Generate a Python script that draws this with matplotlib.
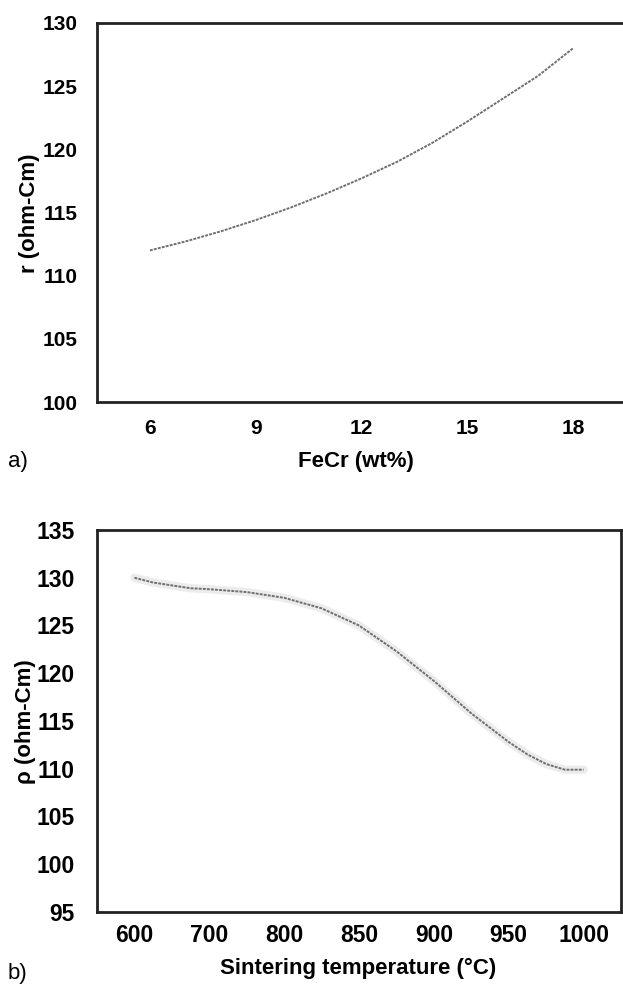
import matplotlib
matplotlib.use("Agg")
import matplotlib.pyplot as plt

plt.rcParams["font.family"] = ["Liberation Sans", "DejaVu Sans"]

# (a) resistivity vs FeCr content
fecr_wt = [6, 7, 8, 9, 10, 11, 12, 13, 14, 15, 16, 17, 18]
rho_fecr = [112.0, 112.7, 113.5, 114.4, 115.4, 116.5, 117.7,
            119.0, 120.5, 122.2, 124.0, 125.8, 128.0]
fecr_ticks = [6, 9, 12, 15, 18]

# (b) resistivity vs sintering temperature (category axis, Excel style)
temp_labels = ["600", "700", "800", "850", "900", "950", "1000"]
# curve read along the category axis (0 = 600, 6 = 1000)
temp_pos = [0, 0.25, 0.5, 0.75, 1.0, 1.5, 2.0, 2.5, 3.0, 3.5, 4.0,
            4.5, 5.0, 5.25, 5.5, 5.75, 6.0]
rho_temp = [130.0, 129.5, 129.2, 128.9, 128.8, 128.5, 127.9, 126.8,
            125.0, 122.3, 119.2, 115.8, 112.8, 111.5, 110.5, 109.9, 109.9]

W, H = 623, 986
fig = plt.figure(figsize=(W / 100, H / 100), dpi=100)

LINE = "#6f6f6f"
SPINE = "#222222"


def style(ax, size, right=True):
    for side, sp in ax.spines.items():
        sp.set_linewidth(2)
        sp.set_color(SPINE)
    if not right:
        ax.spines["right"].set_visible(False)
    ax.tick_params(length=0, labelsize=size)
    for lab in ax.get_xticklabels() + ax.get_yticklabels():
        lab.set_fontweight("bold")


# ---------------------------------------------------------------------------
# panel a
# ---------------------------------------------------------------------------
ax1 = fig.add_axes([97 / W, 1 - 402 / H, 529 / W, 379 / H])
ax1.plot(fecr_wt, rho_fecr, color=LINE, lw=1.4, ls=(0, (1.5, 0.6)))
ax1.set_xlim(4.5, 19.5)
ax1.set_ylim(100, 130)
ax1.set_xticks(fecr_ticks)
ax1.set_yticks(range(100, 131, 5))
ax1.tick_params(axis="y", pad=14)
ax1.tick_params(axis="x", pad=12)
style(ax1, 15)

fig.text(30 / W, 1 - 213 / H, "r (ohm-Cm)", rotation=90, ha="center",
         va="center", fontsize=16, fontweight="bold")
fig.text(356 / W, 1 - 462 / H, "FeCr (wt%)", ha="center", va="center",
         fontsize=16, fontweight="bold")
fig.text(8 / W, 1 - 462 / H, "a)", ha="left", va="center", fontsize=16)

# ---------------------------------------------------------------------------
# panel b
# ---------------------------------------------------------------------------
ax2 = fig.add_axes([97 / W, 1 - 912 / H, 524 / W, 382 / H])
ax2.plot(temp_pos, rho_temp, color="#ececec", lw=6, solid_capstyle="round")
ax2.plot(temp_pos, rho_temp, color=LINE, lw=1.4, ls=(0, (1.5, 0.6)))
ax2.set_xlim(-0.5, 6.5)
ax2.set_ylim(95, 135)
ax2.set_xticks(range(len(temp_labels)))
ax2.set_xticklabels(temp_labels)
ax2.set_yticks(range(95, 136, 5))
ax2.tick_params(axis="y", pad=16)
ax2.tick_params(axis="x", pad=9)
style(ax2, 16.5)

fig.text(25 / W, 1 - 722 / H, "\u03c1 (ohm-Cm)", rotation=90, ha="center",
         va="center", fontsize=16, fontweight="bold")
fig.text(358 / W, 1 - 968 / H, "Sintering temperature (\u00b0C)",
         ha="center", va="center", fontsize=16, fontweight="bold")
fig.text(8 / W, 1 - 973 / H, "b)", ha="left", va="center", fontsize=16)

fig.savefig("out.png", dpi=100)
